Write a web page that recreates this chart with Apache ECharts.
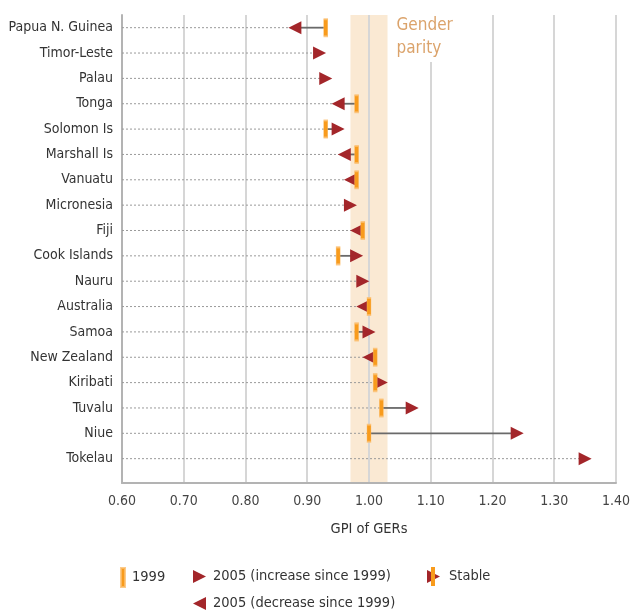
<!DOCTYPE html>
<html>
<head>
<meta charset="utf-8">
<script src="https://cdn.jsdelivr.net/npm/echarts@6/dist/echarts.min.js"></script>
<style>
html,body{margin:0;padding:0;background:#fff;}
#chart{width:633px;height:611px;}
</style>
</head>
<body>
<div id="chart"></div>
<script>
// ---- data ----
const countries = ['Papua N. Guinea','Timor-Leste','Palau','Tonga','Solomon Is','Marshall Is','Vanuatu','Micronesia','Fiji','Cook Islands','Nauru','Australia','Samoa','New Zealand','Kiribati','Tuvalu','Niue','Tokelau'];
const gpi1999 = [0.93, null, null, 0.98, 0.93, 0.98, 0.98, null, 0.99, 0.95, null, 1.00, 0.98, 1.01, 1.01, 1.02, 1.00, null];
const gpi2005 = [0.88, 0.92, 0.93, 0.95, 0.95, 0.96, 0.97, 0.97, 0.98, 0.98, 0.99, 0.99, 1.00, 1.00, 1.02, 1.07, 1.24, 1.35];
const xTicks = [0.60, 0.70, 0.80, 0.90, 1.00, 1.10, 1.20, 1.30, 1.40];
const parityBand = [0.97, 1.03];
const parityLabel = 'Gender\nparity';
const xName = 'GPI of GERs';
const legendNames = ['1999', '2005 (increase since 1999)', '2005 (decrease since 1999)', 'Stable'];

// ---- styles ----
const FONT = "'DejaVu Sans Condensed','DejaVu Sans',sans-serif";
const RED = '#A3262A';
const ORANGE = '#F89B1C';
const TRI_R = 'path://M0,0L13,6.5L0,13Z';
const TRI_L = 'path://M13,0L0,6.5L13,13Z';
const xMin = xTicks[0], xMax = xTicks[xTicks.length - 1];
const yMin = -0.5, yMax = 17.96;

const rows = countries.map((c, i) => i);
const data1999 = rows.filter(i => gpi1999[i] != null).map(i => [gpi1999[i], i]);
const dataInc = rows.filter(i => gpi1999[i] == null || gpi2005[i] > gpi1999[i]).map(i => [gpi2005[i], i]);
const dataDec = rows.filter(i => gpi1999[i] != null && gpi2005[i] < gpi1999[i]).map(i => [gpi2005[i], i]);
const dataStable = rows.filter(i => gpi1999[i] != null && gpi2005[i] === gpi1999[i]).map(i => [gpi2005[i], i]);
const lineData = rows.map(i => [i, gpi1999[i] == null ? gpi2005[i] : gpi1999[i], gpi2005[i], gpi1999[i] == null ? 0 : 1]);

const stableSvg = '<svg xmlns="http://www.w3.org/2000/svg" width="13" height="19" viewBox="0 0 13 19">' +
  '<path d="M0,3L13,9.5L0,16Z" fill="' + RED + '"/>' +
  '<rect x="4" y="0" width="4" height="19" fill="' + ORANGE + '"/></svg>';
const stableIcon = 'image://data:image/svg+xml;charset=utf-8,' + encodeURIComponent(stableSvg);

const chart = echarts.init(document.getElementById('chart'), null, {renderer: 'canvas'});
const legendText = {fontFamily: FONT, fontSize: 14.5, color: '#333'};
const legendBase = {orient: 'horizontal', padding: 0, itemGap: 0, selectedMode: false};

chart.setOption({
  animation: false,
  backgroundColor: '#fff',
  grid: {left: 122, right: 13, top: 15, bottom: 128, containLabel: false},
  xAxis: {
    type: 'value', min: xMin, max: xMax, interval: 0.1, z: 1,
    axisLine: {show: true, onZero: false, lineStyle: {color: '#b3b3b3', width: 2}},
    axisTick: {show: false},
    splitLine: {show: true, lineStyle: {color: '#d6d6d6', width: 2}},
    axisLabel: {fontFamily: FONT, fontSize: 14, color: '#444', margin: 11, formatter: v => v.toFixed(2)},
    name: xName, nameLocation: 'middle', nameGap: 39,
    nameTextStyle: {fontFamily: FONT, fontSize: 14.5, color: '#333'}
  },
  yAxis: {
    type: 'value', inverse: true, min: yMin, max: yMax, z: 1,
    axisLine: {show: true, onZero: false, lineStyle: {color: '#b3b3b3', width: 2}},
    axisTick: {show: false},
    splitLine: {show: false},
    axisLabel: {
      customValues: rows, fontFamily: FONT, fontSize: 14, color: '#333', margin: 9,
      formatter: v => countries[Math.round(v)] || ''
    }
  },
  legend: [
    Object.assign({data: [legendNames[0]], left: 120, top: 567, itemWidth: 4, itemHeight: 19, icon: 'rect',
      textStyle: Object.assign({padding: [0, 0, 0, 2]}, legendText)}, legendBase),
    Object.assign({data: [legendNames[1]], left: 193, top: 569, itemWidth: 15, itemHeight: 13,
      textStyle: Object.assign({padding: [0, 0, 0, 1]}, legendText)}, legendBase),
    Object.assign({data: [legendNames[2]], left: 193, top: 596, itemWidth: 15, itemHeight: 13,
      textStyle: Object.assign({padding: [0, 0, 0, 1]}, legendText)}, legendBase),
    Object.assign({data: [{name: legendNames[3], icon: stableIcon}], left: 427, top: 567, itemWidth: 13, itemHeight: 19,
      textStyle: Object.assign({padding: [0, 0, 0, 4]}, legendText)}, legendBase)
  ],
  series: [
    {
      name: 'band', type: 'custom', z: 0, silent: true,
      data: [parityBand],
      encode: {x: [0, 1]},
      renderItem: (params, api) => {
        const p1 = api.coord([api.value(0), yMin]);
        const p2 = api.coord([api.value(1), yMax]);
        return {type: 'rect', shape: {x: p1[0], y: Math.min(p1[1], p2[1]), width: p2[0] - p1[0], height: Math.abs(p2[1] - p1[1])},
                style: {fill: '#FAE9D3'}};
      }
    },
    {
      name: 'bandLabel', type: 'custom', z: 3, silent: true,
      data: [[parityBand[1]]],
      encode: {x: 0},
      renderItem: (params, api) => {
        const p = api.coord([api.value(0), yMin]);
        return {type: 'text', x: p[0] + 1, y: p[1] - 1,
                style: {text: parityLabel, fill: '#DBA36B', font: '17px ' + FONT, lineHeight: 23,
                        backgroundColor: '#fff', padding: [0, 10, 2, 8], align: 'left', verticalAlign: 'top'}};
      }
    },
    {
      name: 'lines', type: 'custom', z: 2, silent: true,
      data: lineData,
      encode: {x: [1, 2], y: 0},
      renderItem: (params, api) => {
        const y = api.value(0), a = api.value(1), b = api.value(2);
        const lo = Math.min(a, b);
        const p0 = api.coord([xMin, y]), p1 = api.coord([lo, y]);
        const pa = api.coord([a, y]), pb = api.coord([b, y]);
        const children = [
          {type: 'line', shape: {x1: p0[0], y1: p0[1], x2: p1[0], y2: p1[1]},
           style: {stroke: '#9a9a9a', lineWidth: 1, lineDash: [2, 2]}}
        ];
        if (api.value(3) === 1 && a !== b) {
          children.push({type: 'line', shape: {x1: pa[0], y1: pa[1], x2: pb[0], y2: pb[1]},
            style: {stroke: '#6a6a6a', lineWidth: 1.8}});
        }
        return {type: 'group', children};
      }
    },
    {
      name: legendNames[1], type: 'scatter', z: 4, symbol: TRI_R, symbolSize: [13, 13],
      itemStyle: {color: RED, opacity: 1}, data: dataInc
    },
    {
      name: legendNames[2], type: 'scatter', z: 4, symbol: TRI_L, symbolSize: [13, 13],
      itemStyle: {color: RED, opacity: 1}, data: dataDec
    },
    {
      name: legendNames[3], type: 'scatter', z: 4, symbol: TRI_R, symbolSize: [13, 13],
      itemStyle: {color: RED, opacity: 1}, data: dataStable
    },
    {
      name: legendNames[0], type: 'scatter', z: 5, symbol: 'rect', symbolSize: [4, 17],
      itemStyle: {color: ORANGE, opacity: 1, borderColor: 'rgba(251,190,110,0.8)', borderWidth: 1}, data: data1999
    }
  ]
});
</script>
</body>
</html>
